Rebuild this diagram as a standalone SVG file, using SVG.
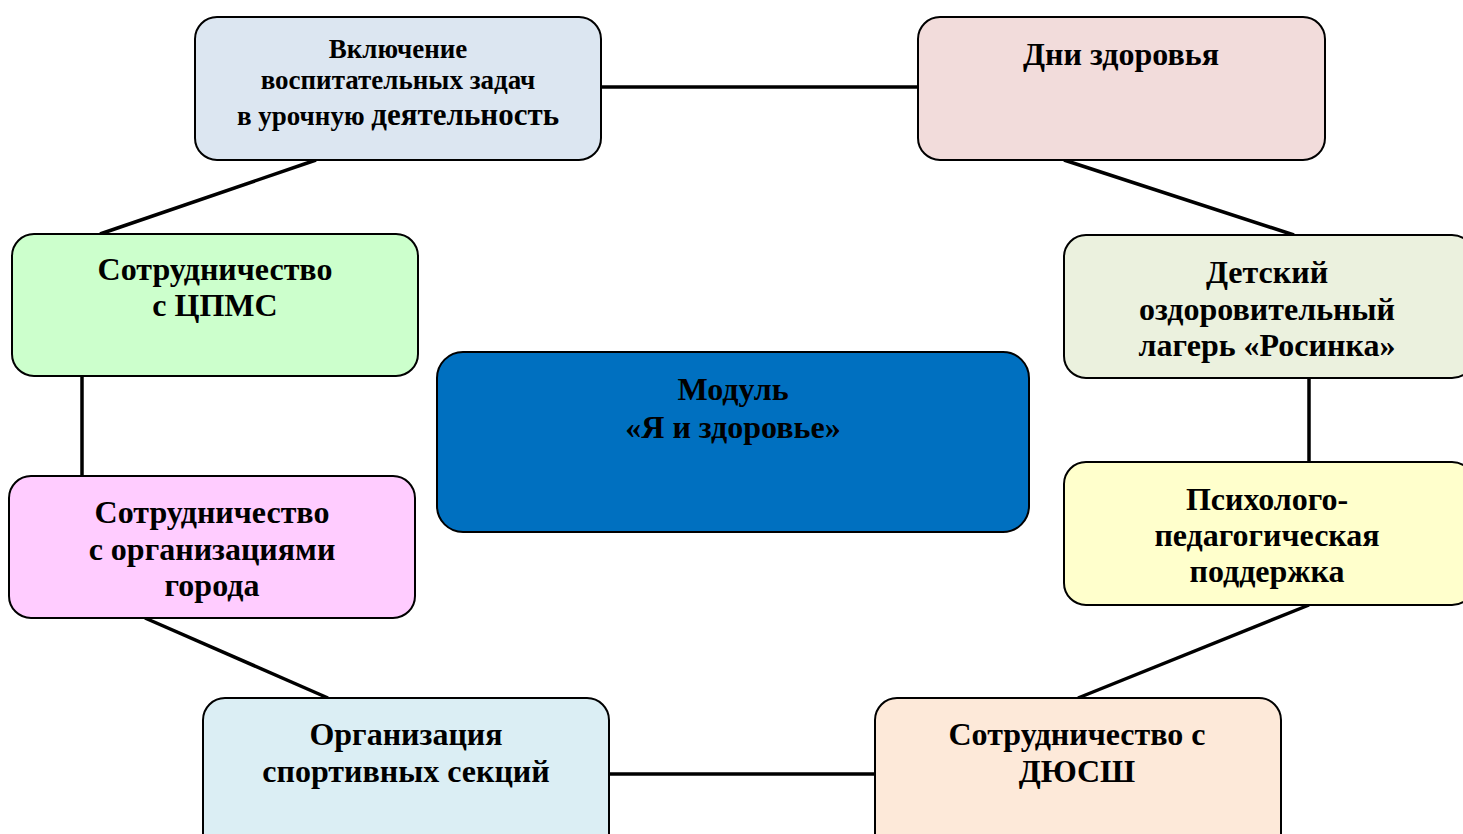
<svg xmlns="http://www.w3.org/2000/svg" width="1463" height="834" viewBox="0 0 1463 834">
<style>
.box{stroke:#000;stroke-width:2}
.t{font-family:"Liberation Serif","Times New Roman",serif;font-weight:bold;font-size:32px;fill:#000;text-anchor:middle}
.s{font-size:27px}
.c{stroke:#000;stroke-width:3.5;fill:none}
</style>
<rect width="1463" height="834" fill="#fff"/>
<g id="connectors">
<line class="c" x1="601" y1="87" x2="918" y2="87"/>
<line class="c" x1="1064" y1="160" x2="1294" y2="235"/>
<line class="c" x1="1309" y1="378" x2="1309" y2="462"/>
<line class="c" x1="1309" y1="605" x2="1078" y2="698"/>
<line class="c" x1="609" y1="774" x2="875" y2="774"/>
<line class="c" x1="145" y1="618" x2="328" y2="698"/>
<line class="c" x1="82" y1="376" x2="82" y2="476"/>
<line class="c" x1="100" y1="234" x2="316" y2="160"/>
</g>
<g id="n1">
<rect class="box" x="195" y="17" width="406" height="143" rx="22" fill="#dce6f1"/>
<text class="t s" x="398" y="58">Включение</text>
<text class="t s" x="398" y="89">воспитательных задач</text>
<text class="t s" x="398" y="125">в урочную <tspan font-size="31">деятельность</tspan></text>
</g>
<g id="n2">
<rect class="box" x="918" y="17" width="407" height="143" rx="22" fill="#f2dcdb"/>
<text class="t" x="1121" y="65">Дни здоровья</text>
</g>
<g id="n3">
<rect class="box" x="1064" y="235" width="410" height="143" rx="22" fill="#ebf1de"/>
<text class="t" x="1267" y="283">Детский</text>
<text class="t" x="1267" y="320">оздоровительный</text>
<text class="t" x="1267" y="356">лагерь «Росинка»</text>
</g>
<g id="n4">
<rect class="box" x="1064" y="462" width="410" height="143" rx="22" fill="#ffffcc"/>
<text class="t" x="1267" y="510">Психолого-</text>
<text class="t" x="1267" y="546">педагогическая</text>
<text class="t" x="1267" y="582">поддержка</text>
</g>
<g id="n5">
<rect class="box" x="875" y="698" width="406" height="160" rx="22" fill="#fde9d9"/>
<text class="t" x="1077" y="745">Сотрудничество с</text>
<text class="t" x="1077" y="782">ДЮСШ</text>
</g>
<g id="n6">
<rect class="box" x="203" y="698" width="406" height="160" rx="22" fill="#dbeef4"/>
<text class="t" x="406" y="745">Организация</text>
<text class="t" x="406" y="782">спортивных секций</text>
</g>
<g id="n7">
<rect class="box" x="9" y="476" width="406" height="142" rx="22" fill="#ffccff"/>
<text class="t" x="212" y="523">Сотрудничество</text>
<text class="t" x="212" y="560">с организациями</text>
<text class="t" x="212" y="596">города</text>
</g>
<g id="n8">
<rect class="box" x="12" y="234" width="406" height="142" rx="22" fill="#ccffcc"/>
<text class="t" x="215" y="280">Сотрудничество</text>
<text class="t" x="215" y="316">с ЦПМС</text>
</g>
<g id="center">
<rect class="box" x="437" y="352" width="592" height="180" rx="26" fill="#0070c0"/>
<text class="t" x="733" y="400">Модуль</text>
<text class="t" x="733" y="438">«Я и здоровье»</text>
</g>
</svg>
